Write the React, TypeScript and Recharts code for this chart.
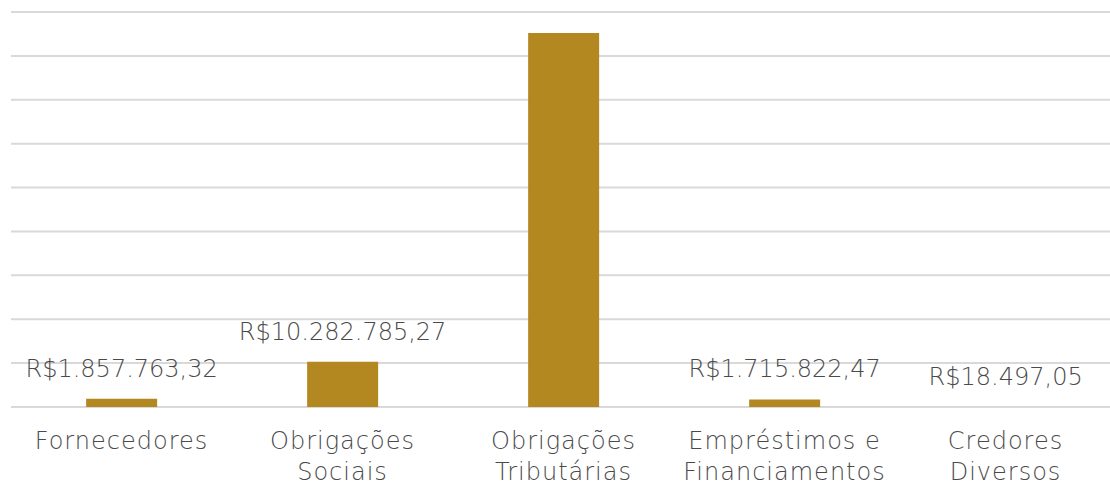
import { Bar, BarChart, CartesianGrid, LabelList, XAxis, YAxis } from "recharts";

const categories = [
  "Fornecedores",
  "Obrigações Sociais",
  "Obrigações Tributárias",
  "Empréstimos e Financiamentos",
  "Credores Diversos",
];
const categoryLines: string[][] = [
  ["Fornecedores"],
  ["Obrigações", "Sociais"],
  ["Obrigações", "Tributárias"],
  ["Empréstimos e", "Financiamentos"],
  ["Credores", "Diversos"],
];
const values = [1857763.32, 10282785.27, 85200000, 1715822.47, 18497.05];
const yTicks = [0, 10000000, 20000000, 30000000, 40000000, 50000000, 60000000, 70000000, 80000000, 90000000];

const data = categories.map((name, i) => ({ name, lines: categoryLines[i], value: values[i] }));

const FONT = "'DejaVu Sans', sans-serif";
const TEXT = "#4a4a4a";

const brl = (v: number) =>
  "R$" + v.toLocaleString("pt-BR", { minimumFractionDigits: 2, maximumFractionDigits: 2 });

function CategoryTick(props: any) {
  const { x, y, index } = props;
  const lines = categoryLines[index] ?? [];
  return (
    <g transform={`translate(${x},${y})`}>
      {lines.map((l, i) => (
        <text
          key={i}
          x={0}
          y={27 + i * 31}
          textAnchor="middle"
          dominantBaseline="middle"
          fontFamily={FONT}
          fontWeight={200}
          fontSize={24}
          letterSpacing={1}
          fill={TEXT}
        >
          {l}
        </text>
      ))}
    </g>
  );
}

function ValueLabel(props: any) {
  const { x, y, width, value } = props;
  const ty = y - 29;
  if (ty < 15) return null;
  return (
    <text
      x={x + width / 2}
      y={ty}
      textAnchor="middle"
      dominantBaseline="middle"
      fontFamily={FONT}
      fontWeight={200}
      fontSize={24}
      fill={TEXT}
    >
      {brl(value)}
    </text>
  );
}

export default function App() {
  return (
    <div style={{ position: "absolute", left: 0, top: 0, width: 1110, height: 485, overflow: "hidden", background: "#fff" }}>
      <BarChart
        width={1120}
        height={485}
        data={data}
        margin={{ top: 12, right: 4, bottom: 0, left: 11 }}
        barCategoryGap="34%"
      >
        <CartesianGrid vertical={false} stroke="#d9d9d9" strokeWidth={2} />
        <XAxis dataKey="name" axisLine={false} tickLine={false} height={78} interval={0} tick={<CategoryTick />} />
        <YAxis hide domain={[0, 90000000]} ticks={yTicks} />
        <Bar dataKey="value" fill="#b38821" isAnimationActive={false}>
          <LabelList dataKey="value" content={<ValueLabel />} />
        </Bar>
      </BarChart>
    </div>
  );
}
